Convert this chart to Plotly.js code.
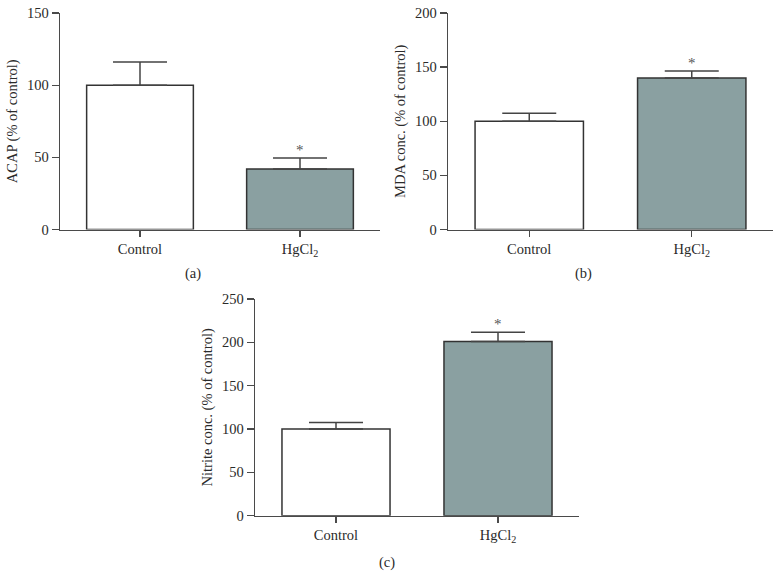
<!DOCTYPE html>
<html>
<head>
<meta charset="utf-8">
<script src="https://cdn.plot.ly/plotly-3.0.1.min.js"></script>
<style>html,body{margin:0;padding:0;background:#fff;}#chart{width:782px;height:587px;}</style>
</head>
<body>
<div id="chart"></div>
<script>
// Data
const categories = ["Control", "HgCl<sub>2</sub>"];
const acapValues = [100, 42];
const acapErrors = [16, 7.5];
const mdaValues = [100, 140];
const mdaErrors = [7.5, 6.5];
const nitriteValues = [100, 201];
const nitriteErrors = [7.5, 10.5];
const significant = ["", "*"];
const panelLabels = ["(a)", "(b)", "(c)"];
const yTitles = ["ACAP (% of control)", "MDA conc. (% of control)", "Nitrite conc. (% of control)"];
const yMax = [150, 200, 250];

const W = 782, H = 587;
const fillColors = ["#ffffff", "#8aa0a1"];
const FONT = "Liberation Serif, DejaVu Serif, serif";
const TXT = "#2a2a2a";
const AX = "#4a4a4a";

// pixel boxes for the three plot areas [x0, x1, yTop, yBottom]
const boxes = [[60, 380, 13, 229.5], [448, 773, 13, 229.5], [255, 579, 299, 515.7]];
const labelPos = [[193, 273], [583, 273], [387, 562]];

const series = [
  [acapValues, acapErrors],
  [mdaValues, mdaErrors],
  [nitriteValues, nitriteErrors]
];

const xIdx = categories.map((c, i) => i);
const traces = [];
const layout = {
  width: W, height: H,
  margin: {l: 0, r: 0, t: 0, b: 0},
  paper_bgcolor: "#ffffff",
  plot_bgcolor: "rgba(0,0,0,0)",
  showlegend: false,
  font: {family: FONT, size: 14, color: TXT},
  annotations: []
};

series.forEach((s, k) => {
  const n = k === 0 ? "" : String(k + 1);
  traces.push({
    type: "bar",
    x: xIdx,
    y: s[0],
    width: 0.667,
    xaxis: "x" + n,
    yaxis: "y" + n,
    marker: {color: fillColors, line: {color: "#333333", width: 1.5}},
    error_y: {type: "data", symmetric: false, array: s[1], arrayminus: s[1].map(() => 0),
              color: "#444444", thickness: 1.5, width: 27},
    hoverinfo: "none"
  });
  const b = boxes[k];
  layout["xaxis" + n] = {
    domain: [b[0] / W, b[1] / W],
    anchor: "y" + n,
    range: [-0.5, 1.5],
    tickmode: "array",
    tickvals: xIdx,
    ticktext: categories,
    ticks: "outside", ticklen: 6, tickwidth: 1.3, tickcolor: AX,
    showline: true, linecolor: AX, linewidth: 1.3,
    showgrid: false, zeroline: false, fixedrange: true,
    tickfont: {family: FONT, size: 14.5, color: TXT}
  };
  layout["yaxis" + n] = {
    domain: [1 - b[3] / H, 1 - b[2] / H],
    anchor: "x" + n,
    range: [0, yMax[k]],
    dtick: 50,
    ticks: "outside", ticklen: 7, tickwidth: 1.3, tickcolor: AX,
    showline: true, linecolor: AX, linewidth: 1.3,
    showgrid: false, zeroline: false, fixedrange: true,
    tickfont: {family: FONT, size: 14.5, color: TXT},
    title: {text: yTitles[k], font: {family: FONT, size: 14.5, color: TXT}, standoff: 6}
  };
  // significance marks
  s[0].forEach((v, i) => {
    if (significant[i]) {
      layout.annotations.push({
        xref: "x" + n, yref: "y" + n, x: i, y: v + s[1][i],
        text: significant[i], showarrow: false, yanchor: "bottom", yshift: -2,
        font: {family: FONT, size: 15, color: "#555555"}
      });
    }
  });
  layout.annotations.push({
    xref: "paper", yref: "paper",
    x: labelPos[k][0] / W, y: 1 - labelPos[k][1] / H,
    text: panelLabels[k], showarrow: false, xanchor: "center", yanchor: "middle",
    font: {family: FONT, size: 14.5, color: TXT}
  });
});

Plotly.newPlot("chart", traces, layout, {displayModeBar: false, staticPlot: true});
</script>
</body>
</html>
